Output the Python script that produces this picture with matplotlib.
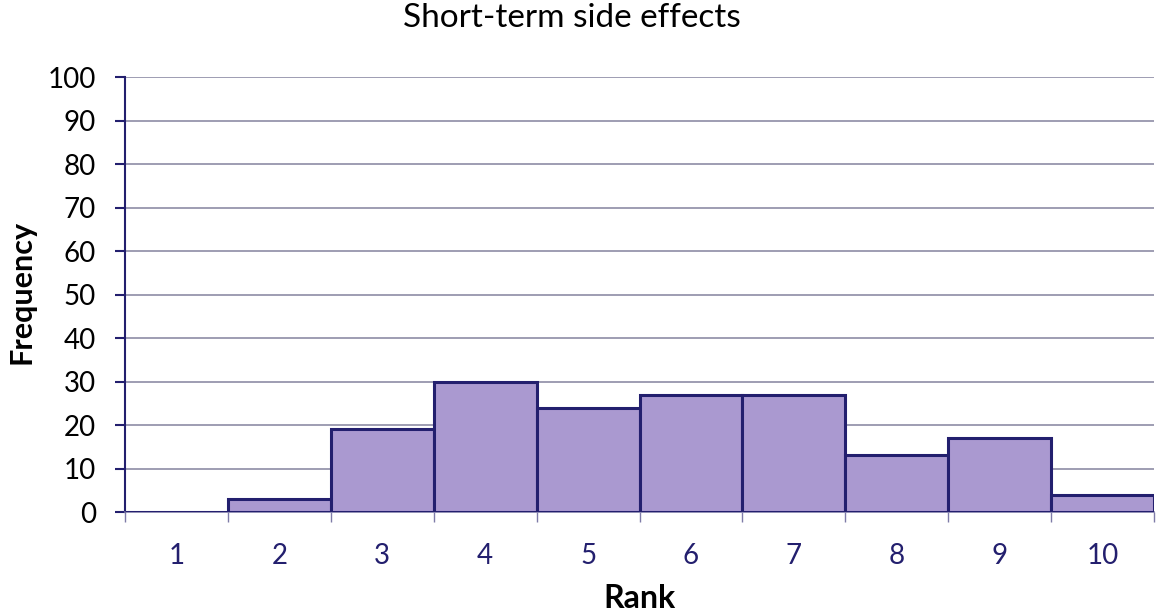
import numpy as np
import matplotlib
matplotlib.use("Agg")
import matplotlib.pyplot as plt

plt.rcParams['font.family'] = ['Lato', 'DejaVu Sans']

# data
ranks = [1, 2, 3, 4, 5, 6, 7, 8, 9, 10]
freq = [0, 3, 19, 30, 24, 27, 27, 13, 17, 4]

navy = '#231F6E'
fill = '#AA99D0'
grid = '#8E8CA6'

fig = plt.figure(figsize=(11.6, 6.16), dpi=100)
ax = fig.add_axes([0.1078, 0.1688, 0.8870, 0.7062])

ax.bar(ranks, freq, width=1.0, color=fill, edgecolor=navy, linewidth=2.2, zorder=3)

ax.set_xlim(0.5, 10.5)
ax.set_ylim(0, 100)
ax.set_yticks(np.arange(0, 101, 10))
ax.yaxis.grid(True, color=grid, linewidth=1.2, zorder=0)
ax.set_axisbelow(True)

# labels at bar centres, tick marks at bin edges
ax.set_xticks(ranks)
ax.set_xticks(np.arange(0.5, 10.6, 1), minor=True)
ax.tick_params(axis='x', which='major', length=0, pad=22, labelsize=20, labelcolor=navy)
ax.tick_params(axis='x', which='minor', length=7, width=1, color='#7E7BA8', direction='out')
ax.tick_params(axis='y', length=7, width=1.5, color=navy, labelsize=20, pad=14)

for s in ['top', 'right']:
    ax.spines[s].set_visible(False)
ax.spines['left'].set_color(navy)
ax.spines['left'].set_linewidth(1.5)
ax.spines['bottom'].set_color('#7E7BA8')
ax.spines['bottom'].set_linewidth(1.2)

fig.text(572/1160, 1 - 18/616, 'Short-term side effects', fontsize=24, ha='center', va='center')
fig.text(640/1160, 1 - 598/616, 'Rank', fontsize=23, fontweight='bold', ha='center', va='center')
fig.text(22/1160, 1 - 292/616, 'Frequency', fontsize=22, fontweight='bold',
         rotation=90, ha='center', va='center')

fig.savefig('out.png', dpi=100)
